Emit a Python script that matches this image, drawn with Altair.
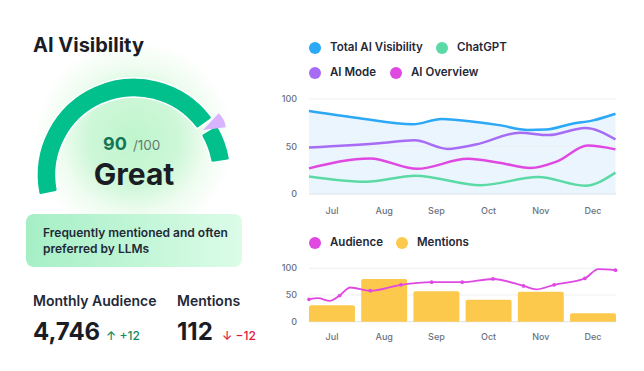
import altair as alt
import pandas as pd

# ---------------- data ----------------
months = ["Jul", "Aug", "Sep", "Oct", "Nov", "Dec"]
month_pos = [0, 1, 2, 3, 4, 5]
ticks = [0, 50, 100]

series_names = ["Total AI Visibility", "ChatGPT", "AI Mode", "AI Overview"]
series_colors = ["#2ba8f6", "#5cdaa5", "#a76cf6", "#e048e2"]

total_t = [-0.44, 0.5, 1.55, 2.1, 2.8, 3.2, 3.75, 4.1, 4.6, 5.0, 5.43]
total_v = [87.5, 80, 73.3, 79, 75.5, 72.5, 67.5, 67.8, 74, 77.5, 84.5]
chatgpt_t = [-0.44, 0.65, 1.6, 2.85, 3.95, 4.85, 5.43]
chatgpt_v = [18.5, 13, 19.2, 9.3, 17.8, 8.8, 22.5]
mode_t = [-0.44, 0.9, 1.58, 2.22, 2.75, 3.6, 4.15, 4.85, 5.43]
mode_v = [49, 53.5, 56.5, 47.5, 52, 64.5, 62, 69.5, 57.5]
overview_t = [-0.44, 0.73, 1.63, 2.6, 3.2, 3.8, 4.3, 4.9, 5.43]
overview_v = [27, 37.5, 26.5, 37, 33, 27.3, 34, 51, 47]

bottom_names = ["Audience", "Mentions"]
bottom_colors = ["#e048e2", "#fdc94c"]
mentions = [31, 80, 57, 41, 56, 16]
audience_t = [-0.44, -0.27, -0.04, 0.147, 0.35, 0.734, 1.321, 1.908, 2.495,
              3.082, 3.669, 3.91, 4.256, 4.843, 5.1, 5.43]
audience_v = [42, 44, 39, 49, 64, 58, 69, 74, 74, 80, 67, 60.6, 69, 81, 98.5, 96.5]
audience_dot = [1, 0, 0, 1, 0, 1, 1, 1, 1, 1, 1, 0, 1, 1, 0, 1]

score = 90
gauge_start = [0, 88]
gauge_end = [85.2, 100]

FONT = "Inter"
DARK = "#1a1d24"
GRAY = "#6b7280"

# ---------------- left panel ----------------
def txt(s, x, y, size, weight, color, align="left"):
    return alt.Chart(pd.DataFrame({"s": [s]})).mark_text(
        align=align, baseline="alphabetic", font=FONT, fontSize=size,
        fontWeight=weight, color=color
    ).encode(x=alt.value(x), y=alt.value(y), text="s:N")

one = pd.DataFrame({"a": [0]})

glow = alt.Chart(one).mark_arc(
    theta=0, theta2=6.2832, radius=100,
    fill=alt.Gradient(
        gradient="radial",
        stops=[alt.GradientStop(color="#bff5cd", offset=0),
               alt.GradientStop(color="#cdf7d8", offset=0.45),
               alt.GradientStop(color="#eefcef", offset=0.72),
               alt.GradientStop(color="#ffffff", offset=1)],
        x1=0.5, y1=0.5, r1=0, x2=0.5, y2=0.5, r2=0.5),
).encode(x=alt.value(126), y=alt.value(132))

gauge = alt.Chart(pd.DataFrame({"start": gauge_start, "end": gauge_end})).mark_arc(
    radius=97, radius2=78, cornerRadius=2, fill="#02c08c",
    stroke="white", strokeWidth=1.5
).encode(
    theta=alt.Theta("start:Q", scale=alt.Scale(domain=[0, 100], range=[-1.7802, 1.4137]), stack=None),
    theta2="end:Q",
    x=alt.value(126), y=alt.value(167),
)

pointer = alt.Chart(one).mark_arc(
    theta=0.75, theta2=1.449, radius=23, fill="#d8b4fe"
).encode(x=alt.value(195), y=alt.value(122))

box = alt.Chart(one).mark_rect(
    cornerRadius=8,
    fill=alt.Gradient(
        gradient="linear",
        stops=[alt.GradientStop(color="#a5efc5", offset=0),
               alt.GradientStop(color="#dcfce8", offset=1)],
        x1=0, y1=0, x2=1, y2=0),
).encode(x=alt.value(18), x2=alt.value(234), y=alt.value(206), y2=alt.value(259))

left_layers = [
    glow, gauge, pointer,
    txt("AI Visibility", 25, 44, 20, 700, DARK),
    txt(str(score), 95, 142, 18, 700, "#147654"),
    txt("/100", 125, 142, 13.5, 400, "#5f7d70"),
    txt("Great", 126, 177, 30, 700, DARK, align="center"),
    box,
    txt("Frequently mentioned and often", 35, 229, 12, 600, "#1f2937"),
    txt("preferred by LLMs", 35, 245, 12, 600, "#1f2937"),
    txt("Monthly Audience", 25, 298, 14, 600, "#1f2937"),
    txt("Mentions", 169, 298, 14, 600, "#1f2937"),
    txt("4,746", 25, 332, 24, 700, DARK),
    txt("↑ +12", 98, 332, 12, 500, "#128a62"),
    txt("112", 169, 332, 24, 700, DARK),
    txt("↓ −12", 214, 332, 12, 500, "#e0183e"),
]

# ---------------- shared scales ----------------
xs = alt.Scale(domain=[-0.44, 5.44], range=[301, 608], nice=False, zero=False)
ys_top = alt.Scale(domain=[0, 100], range=[186, 91], nice=False, zero=False)
ys_bot = alt.Scale(domain=[0, 100], range=[313.7, 260.3], nice=False, zero=False)

def legend(y):
    return alt.Legend(
        orient="none", legendX=301, legendY=y, direction="horizontal",
        title=None, symbolType="circle",
        symbolSize=144, symbolStrokeWidth=0, symbolOpacity=1,
        labelFont=FONT, labelFontSize=11.5, labelFontWeight=600,
        labelColor="#1f2937", labelOffset=9, columnPadding=13,
        padding=0,
    )

tick_df = pd.DataFrame({"tick": ticks, "label": [str(t) for t in ticks]})
grid_df = pd.DataFrame({"tick": ticks[1:]})
base_df = pd.DataFrame({"tick": ticks[:1]})
month_df = pd.DataFrame({"t": month_pos, "month": months})

def axis_parts(ys, label_y):
    grid = alt.Chart(grid_df).mark_rule(color="#eceff3", strokeWidth=1).encode(
        y=alt.Y("tick:Q", scale=ys, axis=None), x=alt.value(301), x2=alt.value(608))
    base = alt.Chart(base_df).mark_rule(color="#dde1e6", strokeWidth=1).encode(
        y=alt.Y("tick:Q", scale=ys, axis=None), x=alt.value(301), x2=alt.value(608))
    ylab = alt.Chart(tick_df).mark_text(
        align="right", baseline="middle", font=FONT, fontSize=9,
        fontWeight=500, color=GRAY
    ).encode(y=alt.Y("tick:Q", scale=ys, axis=None), x=alt.value(289), text="label:N")
    xlab = alt.Chart(month_df).mark_text(
        align="center", baseline="middle", font=FONT, fontSize=9,
        fontWeight=500, color=GRAY
    ).encode(x=alt.X("t:Q", scale=xs, axis=None), y=alt.value(label_y), text="month:N")
    return grid, base, ylab, xlab

# ---------------- top chart ----------------
rows = []
for name, tt, vv in [(series_names[0], total_t, total_v), (series_names[1], chatgpt_t, chatgpt_v),
                     (series_names[2], mode_t, mode_v), (series_names[3], overview_t, overview_v)]:
    for a, b in zip(tt, vv):
        rows.append({"series": name, "t": a, "v": b})
lines_df = pd.DataFrame(rows)
top_color = alt.Scale(domain=series_names, range=series_colors)

area = alt.Chart(pd.DataFrame({"t": total_t, "v": total_v})).mark_area(
    interpolate="monotone", fill="#ebf5fe"
).encode(x=alt.X("t:Q", scale=xs, axis=None),
         y=alt.Y("v:Q", scale=ys_top, axis=None, stack=None))

lines = alt.Chart(lines_df).mark_line(interpolate="monotone", strokeWidth=2.5).encode(
    x=alt.X("t:Q", scale=xs, axis=None),
    y=alt.Y("v:Q", scale=ys_top, axis=None),
    stroke=alt.Stroke("series:N", scale=top_color, legend=None),
)
# legend: first row through the colour channel, second row through the fill channel
top_leg1 = alt.Chart(pd.DataFrame({"series": series_names[:2]})).mark_point(
    filled=True, opacity=0
).encode(color=alt.Color("series:N",
                         scale=alt.Scale(domain=series_names[:2], range=series_colors[:2]),
                         legend=legend(34)))
top_leg2 = alt.Chart(pd.DataFrame({"series": series_names[2:]})).mark_point(
    filled=True, opacity=0
).encode(fill=alt.Fill("series:N",
                       scale=alt.Scale(domain=series_names[2:], range=series_colors[2:]),
                       legend=legend(59)))

g1, b1, yl1, xl1 = axis_parts(ys_top, 203)
top_layer = alt.layer(area, g1, b1, lines, yl1, xl1, top_leg1, top_leg2)

# ---------------- bottom chart ----------------
bot_color = alt.Scale(domain=bottom_names, range=bottom_colors)
bars = alt.Chart(pd.DataFrame({"t": month_pos, "m": mentions})).transform_calculate(
    x0="datum.t - 0.44", x1="datum.t + 0.44"
).mark_bar(color="#fdc94c", cornerRadiusTopLeft=2, cornerRadiusTopRight=2).encode(
    x=alt.X("x0:Q", scale=xs, axis=None), x2="x1:Q",
    y=alt.Y("m:Q", scale=ys_bot, axis=None, stack=None), y2=alt.datum(0),
)
aud_df = pd.DataFrame({"t": audience_t, "a": audience_v, "dot": audience_dot})
aud_line = alt.Chart(aud_df).mark_line(
    interpolate="monotone", strokeWidth=1.8, color="#e048e2"
).encode(x=alt.X("t:Q", scale=xs, axis=None), y=alt.Y("a:Q", scale=ys_bot, axis=None))
aud_pts = alt.Chart(aud_df).transform_filter("datum.dot == 1").mark_point(
    filled=True, size=14, color="#e048e2", opacity=1
).encode(x=alt.X("t:Q", scale=xs, axis=None), y=alt.Y("a:Q", scale=ys_bot, axis=None))
bot_leg = alt.Chart(pd.DataFrame({"series": bottom_names})).mark_point(
    filled=True, opacity=0
).encode(color=alt.Color("series:N", scale=bot_color, legend=legend(229)))

g2, b2, yl2, xl2 = axis_parts(ys_bot, 329)
bottom_layer = alt.layer(g2, b2, bars, aud_line, aud_pts, yl2, xl2, bot_leg)

chart = alt.layer(*left_layers, top_layer, bottom_layer).resolve_scale(
    y="independent", color="independent"
).properties(
    width=628, height=355, padding=0,
    autosize=alt.AutoSizeParams(type="none"), background="white",
).configure_view(stroke=None)

chart.save("out.html", embed_options={"renderer": "svg", "actions": False})
